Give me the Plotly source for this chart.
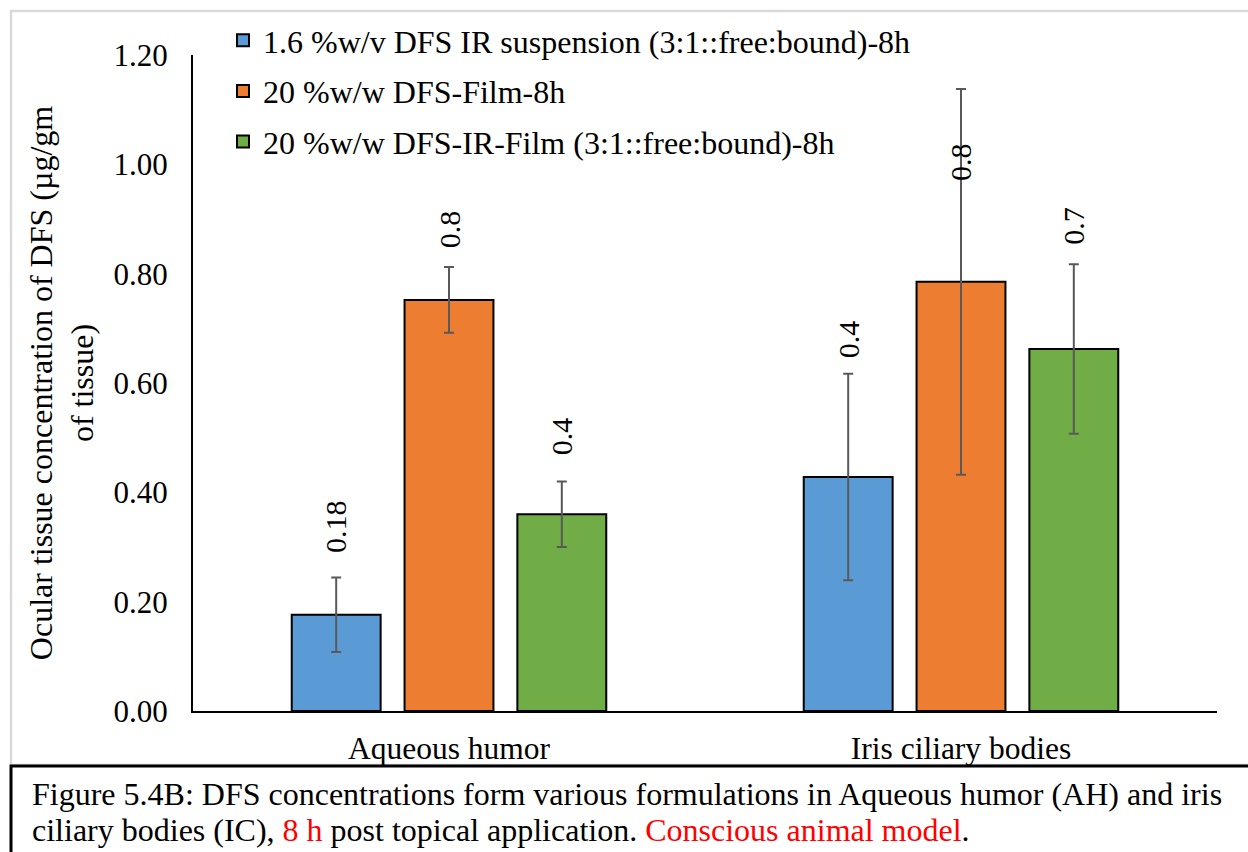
import plotly.graph_objects as go

categories = ["Aqueous humor", "Iris ciliary bodies"]
series_names = [
    "1.6 %w/v DFS IR suspension (3:1::free:bound)-8h",
    "20 %w/w DFS-Film-8h",
    "20 %w/w DFS-IR-Film (3:1::free:bound)-8h",
]
series_values = [
    [0.176, 0.428],
    [0.752, 0.785],
    [0.360, 0.662],
]
series_errors = [
    [0.068, 0.189],
    [0.060, 0.353],
    [0.060, 0.155],
]
label_texts = [
    ["0.18", "0.4"],
    ["0.8", "0.8"],
    ["0.4", "0.7"],
]
label_y = [
    [0.285, 0.642],
    [0.843, 0.966],
    [0.464, 0.849],
]
caption_lines = [
    "Figure 5.4B: DFS concentrations form various formulations in Aqueous humor (AH) and iris",
    "ciliary bodies (IC), <span style='color:#FF0000'>8 h</span> post topical application. "
    "<span style='color:#FF0000'>Conscious animal model</span>.",
]
colors = ["#5B9BD5", "#ED7D31", "#70AD47"]
y_ticks = [0.0, 0.2, 0.4, 0.6, 0.8, 1.0, 1.2]

FONT = "Liberation Serif"
W, H = 1248, 852
ML, MR, MT, MB = 193, 31, 55, 141
BARGAP = 0.339

fig = go.Figure()
for i, name in enumerate(series_names):
    fig.add_trace(go.Bar(
        x=categories, y=series_values[i], name=name,
        marker=dict(color=colors[i], line=dict(color="black", width=2)),
        error_y=dict(type="data", array=series_errors[i], visible=True,
                     color="#595959", thickness=2, width=5),
        legendgroup=str(i),
    ))

plot_w = W - ML - MR
plot_h = H - MT - MB
slot = plot_w / len(categories) * (1 - BARGAP) / len(series_names)
for i in range(len(series_names)):
    for j, cat in enumerate(categories):
        fig.add_annotation(
            x=cat, y=label_y[i][j], xref="x", yref="y",
            text=label_texts[i][j], textangle=-90, showarrow=False,
            xanchor="center", yanchor="bottom",
            xshift=(i - 1) * slot,
            font=dict(family=FONT, size=30, color="black"),
        )

# outer chart frame
fig.add_shape(type="rect", xref="paper", yref="paper",
              x0=(11 - ML) / plot_w, x1=(W + 20 - ML) / plot_w,
              y0=(H - MB - 765) / plot_h, y1=(H - MB - 11) / plot_h,
              line=dict(color="#D9D9D9", width=2.5), layer="below")
# caption box
fig.add_shape(type="rect", xref="paper", yref="paper",
              x0=(11 - ML) / plot_w, x1=(W + 20 - ML) / plot_w,
              y0=(H - MB - 900) / plot_h, y1=(H - MB - 766) / plot_h,
              line=dict(color="black", width=3))

for k, line in enumerate(caption_lines):
    fig.add_annotation(
        xref="paper", yref="paper",
        x=(30 - ML) / plot_w, y=(H - MB - (774 + 36 * k)) / plot_h,
        xanchor="left", yanchor="top", align="left", showarrow=False,
        text=line,
        font=dict(family=FONT, size=32, color="black"),
    )

fig.update_layout(
    width=W, height=H,
    margin=dict(l=ML, r=MR, t=MT, b=MB, autoexpand=False),
    paper_bgcolor="white", plot_bgcolor="white",
    barmode="group", bargap=BARGAP, bargroupgap=0.212,
    font=dict(family=FONT, color="black"),
    legend=dict(x=(223 - ML) / plot_w, y=(H - MB - 13) / plot_h,
                xanchor="left", yanchor="top",
                font=dict(family=FONT, size=32, color="black"),
                bgcolor="rgba(0,0,0,0)", tracegroupgap=6),
    xaxis=dict(showline=True, linecolor="black", linewidth=2, ticks="",
               tickfont=dict(family=FONT, size=31.5, color="black"),
               ticklabelstandoff=8,
               showgrid=False, automargin=False),
    yaxis=dict(range=[0, 1.2], tickvals=y_ticks, tickformat=".2f",
               showline=True, linecolor="black", linewidth=2, ticks="",
               showgrid=False, zeroline=False, automargin=False,
               tickfont=dict(family=FONT, size=31, color="black"),
               ticklabelstandoff=17,
               title=dict(text="Ocular tissue concentration of DFS (µg/gm<br>of tissue)",
                          font=dict(family=FONT, size=32, color="black"), standoff=10)),
)

fig.write_html("out.html")
